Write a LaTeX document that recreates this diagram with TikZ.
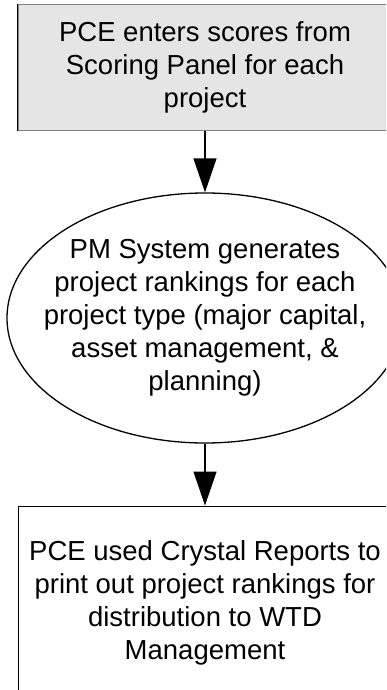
\documentclass[tikz,border=0pt]{standalone}
\usepackage{fontspec}
\setmainfont{Liberation Sans}
\usetikzlibrary{shapes.geometric,arrows.meta}
\begin{document}
\begin{tikzpicture}[x=1pt,y=-1pt,
  txt/.style={font=\fontsize{27.5}{33}\selectfont, align=center, text=black, inner sep=0pt},
  flow/.style={line width=1.3pt, -{Triangle[length=34pt,width=23pt]}},
  boxshape/.style={rectangle, minimum width=374pt, line width=1pt, inner sep=0pt}
]
\useasboundingbox (0,0) rectangle (386,690);
\clip (0,0) rectangle (386,690);
% top box
\node[boxshape, txt, fill=black!10, draw=black!50, minimum height=125.5pt] (top) at (205,67.75)
  {PCE enters scores from\\Scoring Panel for each\\project};
\draw[black, line width=1pt] (top.north west) -- (top.south west);
% ellipse
\node[ellipse, draw=black, line width=1.3pt, minimum width=396pt, minimum height=250pt, inner sep=0pt] (mid) at (205,318) {};
\node[txt] (midtext) at (mid.center)
  {PM System generates\\project rankings for each\\project type (major capital,\\asset management, \&\\planning)};
% bottom box
\node[boxshape, draw=black, fill=white, minimum height=194pt] (bot) at (205,603) {};
\node[txt] (bottext) at (bot.center)
  {PCE used Crystal Reports to\\print out project rankings for\\distribution to WTD\\Management};
% connectors
\draw[flow] (top.south) -- (mid.north);
\draw[flow] (mid.south) -- (bot.north);
\end{tikzpicture}
\end{document}
